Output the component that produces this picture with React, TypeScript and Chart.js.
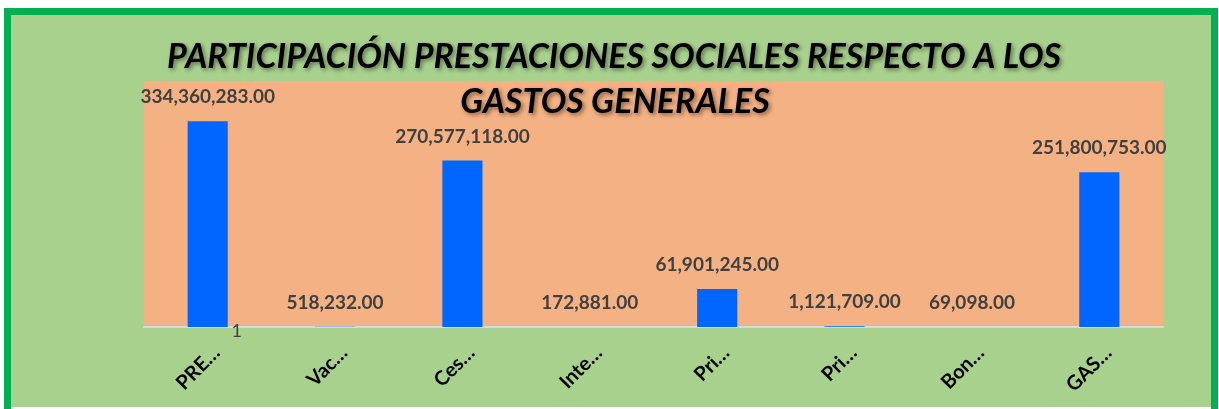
import React, { useEffect, useRef } from "react";
import { Chart, registerables } from "chart.js";

Chart.register(...registerables);

const categories = ["PRE…", "Vac…", "Ces…", "Inte…", "Pri…", "Pri…", "Bon…", "GAS…"];
const values = [334360283, 518232, 270577118, 172881, 61901245, 1121709, 69098, 251800753];
const titleLines = ["PARTICIPACIÓN PRESTACIONES SOCIALES RESPECTO A LOS", "GASTOS GENERALES"];
const strayLabel = "1";

const FONT = "Lato, 'Open Sans', sans-serif";

const fmt = (v: number) =>
  v.toLocaleString("en-US", { minimumFractionDigits: 2, maximumFractionDigits: 2 });

const decorPlugin = {
  id: "decor",
  beforeDraw(chart: any) {
    const { ctx, chartArea } = chart;
    ctx.save();
    ctx.fillStyle = "#ffffff";
    ctx.fillRect(0, 0, chart.width, chart.height);
    ctx.fillStyle = "#A9D18E";
    ctx.fillRect(8, 12, chart.width - 14, chart.height - 14);
    ctx.strokeStyle = "#00B050";
    ctx.lineWidth = 7;
    ctx.strokeRect(7.5, 11.5, chart.width - 12, chart.height - 8);
    ctx.fillStyle = "#F4B183";
    ctx.fillRect(chartArea.left, chartArea.top, chartArea.right - chartArea.left, chartArea.bottom - chartArea.top);
    ctx.restore();
  },
  afterDatasetsDraw(chart: any) {
    const { ctx } = chart;
    const meta = chart.getDatasetMeta(0);
    ctx.save();
    ctx.font = `bold 19px ${FONT}`;
    ctx.fillStyle = "#404040";
    ctx.textAlign = "center";
    ctx.textBaseline = "middle";
    meta.data.forEach((el: any, i: number) => {
      ctx.fillText(fmt(values[i]), el.x, el.y - 24);
    });
    const first = meta.data[0];
    ctx.font = `18px ${FONT}`;
    ctx.fillStyle = "#404040";
    ctx.fillText(strayLabel, first.x + 29, chart.chartArea.bottom + 4);
    ctx.font = `italic bold 34px ${FONT}`;
    ctx.fillStyle = "#000000";
    ctx.shadowColor = "rgba(0,0,0,0.45)";
    ctx.shadowBlur = 4;
    ctx.shadowOffsetX = 2;
    ctx.shadowOffsetY = 2;
    ctx.textBaseline = "alphabetic";
    ctx.fillText(titleLines[0], 614, 68);
    ctx.fillText(titleLines[1], 615, 113);
    ctx.restore();
  },
};

export default function App() {
  const ref = useRef<HTMLCanvasElement>(null);
  useEffect(() => {
    if (!ref.current) return;
    const chart = new Chart(ref.current, {
      type: "bar",
      data: {
        labels: categories,
        datasets: [
          {
            data: values,
            backgroundColor: "#0066FF",
            barPercentage: 0.315,
            categoryPercentage: 1,
          },
        ],
      },
      options: {
        animation: false,
        responsive: false,
        layout: { padding: { left: 144, right: 56, top: 81, bottom: 0 } },
        plugins: { legend: { display: false }, title: { display: false }, tooltip: { enabled: false } },
        scales: {
          y: { display: false, min: 0, max: 400000000 },
          x: {
            grid: { display: false },
            border: { display: true, color: "#D9D9D9", width: 2 },
            ticks: {
              autoSkip: false,
              minRotation: 45,
              maxRotation: 45,
              padding: 6,
              labelOffset: 9,
              color: "#000000",
              font: { family: FONT, size: 20, weight: "bold" },
            },
            afterFit(scale: any) {
              scale.height = 82;
            },
          },
        },
      },
      plugins: [decorPlugin],
    });
    return () => chart.destroy();
  }, []);
  return (
    <div style={{ position: "absolute", left: 0, top: 0, width: 1219, height: 409 }}>
      <canvas ref={ref} width={1219} height={409} style={{ display: "block" }} />
    </div>
  );
}
